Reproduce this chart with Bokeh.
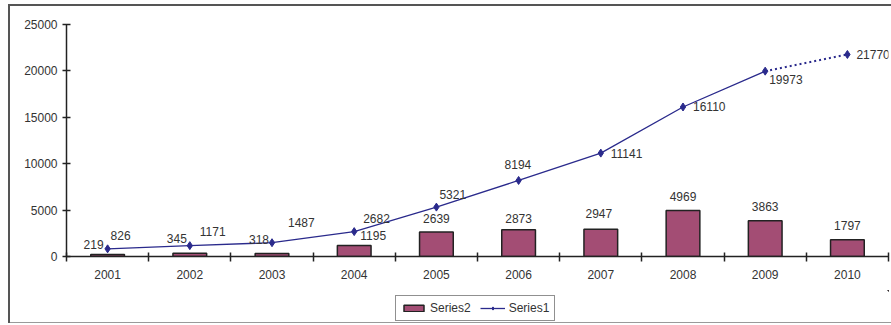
from bokeh.plotting import figure
from bokeh.models import (Range1d, FixedTicker, Legend, LegendItem, ColumnDataSource, Column)
from bokeh.core.properties import value
from bokeh.embed import file_html
from bokeh.resources import INLINE

years = ["2001", "2002", "2003", "2004", "2005", "2006", "2007", "2008", "2009", "2010"]
series2 = [219, 345, 318, 1195, 2639, 2873, 2947, 4969, 3863, 1797]
series1 = [826, 1171, 1487, 2682, 5321, 8194, 11141, 16110, 19973, 21770]
y_ticks = [0, 5000, 10000, 15000, 20000, 25000]

# label placement (screen pixel offsets)
bar_dx = [-14, -13, -13, 19, 0, 0, -2, 0, 0, 0]
bar_dy = [-10, -15, -14, -10, -14, -11, -16, -14, -14, -14]
line_dx = [3, 10, 16, 9, 3, -14, 10, 10, 4, 9]
line_dy = [-13, -14, -20, -13, -13, -16, 0, 0, 8, 0]

xs = list(range(1, len(years) + 1))
FONT = "Liberation Sans"
TXT = "#333333"
FS = "12px"
BAR_FILL = "#A34D74"
EDGE = "#222222"
NAVY = "#2a2a8c"

p = figure(width=891, height=290, output_backend="svg", toolbar_location=None,
           x_range=Range1d(0.5, len(years) + 0.5), y_range=Range1d(0, 25000),
           min_border_left=66, min_border_right=3, min_border_top=24, min_border_bottom=34)
p.xgrid.visible = False
p.ygrid.visible = False
p.outline_line_color = None
p.background_fill_color = "white"
p.border_fill_color = None
p.styles = {"background": (
    "linear-gradient(#555,#555) 8px 4px / 2px 286px no-repeat, "
    "linear-gradient(#555,#555) 8px 4px / 900px 2px no-repeat, white")}

# x axis: labels at category centers, ticks at category boundaries
xa = p.xaxis[0]
xa.ticker = FixedTicker(ticks=xs, minor_ticks=[x - 0.5 for x in xs] + [len(xs) + 0.5])
xa.major_label_overrides = {x: y for x, y in zip(xs, years)}
xa.major_tick_line_color = None
xa.major_tick_in = 0
xa.major_tick_out = 4
xa.major_label_standoff = 8
xa.minor_tick_line_color = EDGE
xa.minor_tick_line_width = 1.5
xa.minor_tick_in = 4
xa.minor_tick_out = 5
xa.axis_line_color = EDGE
xa.axis_line_width = 1.5
xa.major_label_text_font = FONT
xa.major_label_text_font_size = FS
xa.major_label_text_color = TXT

ya = p.yaxis[0]
ya.ticker = FixedTicker(ticks=y_ticks, minor_ticks=[])
ya.major_tick_in = 4
ya.major_tick_out = 4
ya.major_tick_line_color = EDGE
ya.major_tick_line_width = 1.5
ya.major_label_standoff = 5
ya.axis_line_color = EDGE
ya.axis_line_width = 1.5
ya.major_label_text_font = FONT
ya.major_label_text_font_size = FS
ya.major_label_text_color = TXT

p.vbar(x=xs, top=series2, width=0.41, fill_color=BAR_FILL, line_color=EDGE, line_width=1.5)
p.line(xs[:9], series1[:9], line_color=NAVY, line_width=1.3)
p.line(xs[8:], series1[8:], line_color=NAVY, line_width=2, line_dash="2 3")
p.scatter(xs, series1, marker="diamond", size=8, fill_color=NAVY, line_color=NAVY)

bsrc = ColumnDataSource(dict(x=xs, y=series2, t=[str(v) for v in series2], dx=bar_dx, dy=bar_dy))
p.text(x="x", y="y", text="t", x_offset="dx", y_offset="dy", source=bsrc,
       text_align="center", text_baseline="middle", text_font=value(FONT),
       text_font_size=FS, text_color=TXT)

lsrc = ColumnDataSource(dict(x=xs, y=series1, t=[str(v) for v in series1], dx=line_dx, dy=line_dy))
p.text(x="x", y="y", text="t", x_offset="dx", y_offset="dy", source=lsrc,
       text_align="left", text_baseline="middle", text_font=value(FONT),
       text_font_size=FS, text_color=TXT)

# legend strip below the chart (its glyphs sit outside the strip's visible range)
q = figure(width=891, height=35, output_backend="svg", toolbar_location=None,
           x_axis_type=None, y_axis_type=None, x_range=Range1d(-100, -99), y_range=Range1d(-100, -99),
           min_border=0)
q.xgrid.visible = False
q.ygrid.visible = False
q.outline_line_color = None
q.background_fill_color = None
q.border_fill_color = None
q.styles = {"background": (
    "linear-gradient(#555,#555) 8px 0px / 2px 33px no-repeat, "
    "linear-gradient(#9a9a9a,#9a9a9a) 8px 32px / 900px 1px no-repeat, white")}
lb = q.vbar(x=xs, top=series2, width=0.41, fill_color=BAR_FILL, line_color=EDGE, line_width=1.5)
ll = q.line(xs, series1, line_color=NAVY, line_width=1.3)
lm = q.scatter(xs, series1, marker="diamond", size=7, fill_color=NAVY, line_color=NAVY)

legend = Legend(items=[LegendItem(label="Series2", renderers=[lb]),
                       LegendItem(label="Series1", renderers=[ll, lm])],
                location=(329, 4), orientation="horizontal",
                border_line_color=EDGE, border_line_width=1.5,
                background_fill_color="white", background_fill_alpha=1,
                glyph_width=25, glyph_height=8, label_height=12,
                label_text_font=FONT, label_text_font_size=FS, label_text_color=TXT,
                padding=5, spacing=9, label_standoff=4, margin=0)
q.add_layout(legend, "center")

root = Column(children=[p, q], spacing=0)
open("out.html", "w").write(file_html(root, INLINE))
